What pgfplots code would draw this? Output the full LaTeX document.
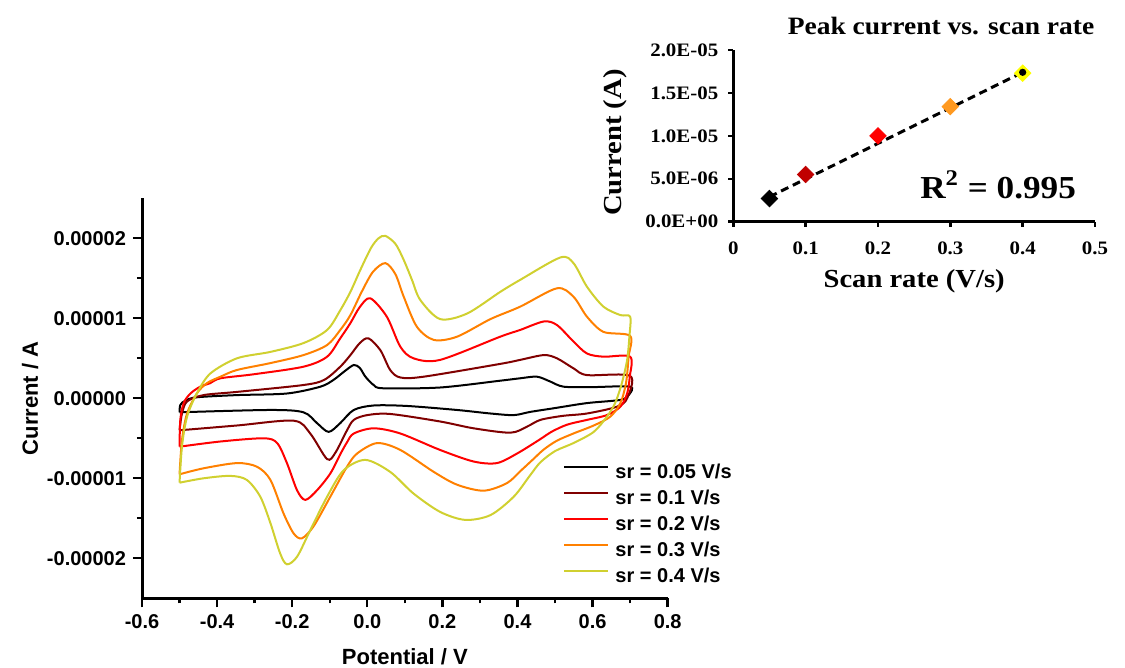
\documentclass[border=0pt]{standalone}
\usepackage{pgfplots}
\pgfplotsset{compat=1.18}
\usepackage{fontspec}
\setmainfont{Liberation Sans}
\newfontfamily\insetfont[FakeStretch=1.1]{Liberation Serif}
\definecolor{cvblack}{RGB}{0,0,0}
\definecolor{cvdarkred}{RGB}{128,0,0}
\definecolor{cvred}{RGB}{255,0,0}
\definecolor{cvorange}{RGB}{255,128,0}
\definecolor{cvyellow}{RGB}{208,208,48}
\definecolor{dkred}{RGB}{192,0,0}
\definecolor{dorange}{RGB}{255,153,32}
\definecolor{dyellow}{RGB}{255,255,0}
\begin{document}
\begin{tikzpicture}
\useasboundingbox (0,0) rectangle (562.5pt,334pt);
% ---------------- main CV plot (current in units of 1e-5 A) ----------------
\begin{axis}[
  at={(71pt,34.85pt)}, anchor=south west,
  scale only axis, width=262.85pt, height=200pt,
  xmin=-0.6, xmax=0.8, ymin=-2.5, ymax=2.5,
  axis lines=left, axis line style={-, line width=1.5pt},
  tick align=outside, major tick length=4.5pt, minor tick length=2.5pt,
  every tick/.style={black, line width=1.2pt},
  xtick={-0.6,-0.4,-0.2,0,0.2,0.4,0.6,0.8},
  xticklabels={-0.6,-0.4,-0.2,0.0,0.2,0.4,0.6,0.8},
  ytick={-2,-1,0,1,2},
  yticklabels={-0.00002,-0.00001,0.00000,0.00001,0.00002},
  minor x tick num=1, minor y tick num=1,
  tick label style={font=\fontsize{10}{12}\selectfont\bfseries},
  xlabel={Potential / V}, ylabel={Current / A},
  label style={font=\fontsize{11}{13}\selectfont\bfseries},
  xlabel style={at={(axis description cs:0.5,-0.145)}, anchor=center},
  ylabel style={at={(axis description cs:-0.213,0.5)}, anchor=center},
  legend style={at={(0.801,0.3385)}, anchor=north west, draw=none, fill=none,
    inner sep=0pt, row sep=3.5pt, column sep=3pt,
    font=\fontsize{10}{12}\selectfont\bfseries,
    nodes={inner sep=0pt, text height=7.5pt, text depth=2pt}},
  legend cell align=left,
  legend image code/.code={\draw[#1, line width=1pt] (0pt,2.8pt) -- (22pt,2.8pt);},
  clip=false,
]
\addplot[cvblack, line width=1pt, smooth, tension=0.5] coordinates {
(-0.500,-0.175) (-0.498,-0.084) (-0.485,-0.03) (-0.454,0.0125) (-0.347,0.04)
(-0.214,0.06) (-0.125,0.145) (-0.090,0.23) (-0.060,0.34) (-0.036,0.416)
(-0.020,0.38) (-0.005,0.27) (0.017,0.166) (0.043,0.125) (0.194,0.135)
(0.354,0.22) (0.407,0.25) (0.452,0.27) (0.487,0.21) (0.523,0.145)
(0.600,0.14) (0.700,0.145) (0.696,0.04) (0.674,-0.02) (0.585,-0.06)
(0.496,-0.125) (0.434,-0.17) (0.390,-0.21) (0.328,-0.19) (0.239,-0.146)
(0.106,-0.096) (0.017,-0.09) (-0.036,-0.146) (-0.072,-0.31) (-0.103,-0.42)
(-0.134,-0.31) (-0.170,-0.175) (-0.258,-0.146) (-0.500,-0.175)};
\addlegendentry{sr = 0.05 V/s}
\addplot[cvdarkred, line width=1pt, smooth, tension=0.5] coordinates {
(-0.500,-0.40) (-0.4935,-0.19) (-0.480,-0.04) (-0.436,0.04) (-0.347,0.08)
(-0.170,0.166) (-0.115,0.23) (-0.072,0.395) (-0.045,0.54) (-0.020,0.69) (0.003,0.75)
(0.035,0.60) (0.061,0.354) (0.088,0.26) (0.150,0.27) (0.354,0.43)
(0.407,0.48) (0.470,0.54) (0.505,0.50) (0.549,0.375) (0.585,0.29)
(0.700,0.28) (0.692,0.0) (0.665,-0.105) (0.585,-0.19) (0.520,-0.22)
(0.461,-0.27) (0.425,-0.355) (0.381,-0.43) (0.283,-0.375) (0.194,-0.29)
(0.061,-0.196) (0.000,-0.21) (-0.036,-0.27) (-0.054,-0.40) (-0.085,-0.68)
(-0.107,-0.76) (-0.152,-0.44) (-0.196,-0.28) (-0.347,-0.34) (-0.500,-0.40)};
\addlegendentry{sr = 0.1 V/s}
\addplot[cvred, line width=1pt, smooth, tension=0.5] coordinates {
(-0.500,-0.605) (-0.498,-0.27) (-0.489,-0.06) (-0.471,0.06) (-0.445,0.145)
(-0.418,0.19) (-0.391,0.25) (-0.303,0.30) (-0.170,0.395) (-0.107,0.52)
(-0.072,0.75) (-0.045,0.94) (-0.020,1.14) (0.008,1.25) (0.052,1.02) (0.088,0.645)
(0.123,0.50) (0.194,0.48) (0.354,0.77) (0.407,0.854) (0.470,0.96)
(0.505,0.916) (0.549,0.71) (0.585,0.56) (0.629,0.52) (0.700,0.52)
(0.699,0.27) (0.692,0.06) (0.674,-0.105) (0.638,-0.21) (0.585,-0.27)
(0.532,-0.33) (0.490,-0.42) (0.461,-0.51) (0.399,-0.69) (0.345,-0.81) (0.283,-0.79)
(0.194,-0.646) (0.088,-0.44) (0.017,-0.375) (-0.036,-0.44) (-0.054,-0.55)
(-0.072,-0.70) (-0.0985,-0.94) (-0.134,-1.15) (-0.165,-1.27) (-0.187,-1.15)
(-0.214,-0.81) (-0.240,-0.56) (-0.276,-0.50) (-0.391,-0.54) (-0.500,-0.605)};
\addlegendentry{sr = 0.2 V/s}
\addplot[cvorange, line width=1pt, smooth, tension=0.5] coordinates {
(-0.500,-0.95) (-0.4935,-0.52) (-0.480,-0.19) (-0.454,0.06) (-0.427,0.19)
(-0.391,0.27) (-0.347,0.354) (-0.258,0.44) (-0.170,0.54) (-0.107,0.666)
(-0.072,0.854) (-0.045,1.04) (-0.015,1.33) (0.015,1.58) (0.048,1.69) (0.075,1.55) (0.097,1.27) (0.132,0.895)
(0.177,0.73) (0.239,0.77) (0.328,0.99) (0.407,1.145) (0.505,1.375)
(0.549,1.27) (0.585,1.02) (0.629,0.83) (0.700,0.78) (0.696,0.52)
(0.689,0.19) (0.674,-0.06) (0.647,-0.23) (0.603,-0.34) (0.549,-0.44)
(0.505,-0.53) (0.470,-0.64) (0.440,-0.77) (0.410,-0.90) (0.372,-1.06) (0.310,-1.155)
(0.239,-1.08) (0.177,-0.92) (0.088,-0.646) (0.026,-0.56) (-0.027,-0.69)
(-0.054,-0.855) (-0.0985,-1.23) (-0.143,-1.60) (-0.174,-1.75) (-0.196,-1.69)
(-0.223,-1.44) (-0.258,-1.02) (-0.294,-0.855) (-0.347,-0.81) (-0.436,-0.875)
(-0.500,-0.95)};
\addlegendentry{sr = 0.3 V/s}
\addplot[cvyellow, line width=1pt, smooth, tension=0.5] coordinates {
(-0.500,-1.055) (-0.4935,-0.60) (-0.480,-0.23) (-0.454,0.06) (-0.418,0.31)
(-0.347,0.50) (-0.258,0.58) (-0.170,0.69) (-0.107,0.854) (-0.072,1.10)
(-0.045,1.33) (-0.019,1.60) (0.010,1.88) (0.030,2.00) (0.048,2.03) (0.075,1.93)
(0.097,1.73) (0.119,1.48) (0.141,1.23)
(0.194,0.99) (0.266,1.06) (0.354,1.33) (0.407,1.48) (0.514,1.76)
(0.549,1.69) (0.585,1.395) (0.629,1.145) (0.674,1.04) (0.700,1.02)
(0.698,0.77) (0.692,0.48) (0.678,0.19) (0.660,-0.06) (0.638,-0.23)
(0.603,-0.42) (0.549,-0.56) (0.500,-0.66) (0.461,-0.80) (0.434,-0.96)
(0.390,-1.23) (0.328,-1.46) (0.261,-1.52) (0.194,-1.42) (0.123,-1.19)
(0.061,-0.92) (-0.005,-0.77) (-0.063,-0.90) (-0.107,-1.23) (-0.152,-1.65)
(-0.187,-1.98) (-0.214,-2.075) (-0.232,-1.94) (-0.258,-1.56) (-0.285,-1.23)
(-0.321,-1.02) (-0.365,-0.97) (-0.436,-1.00) (-0.500,-1.055)};
\addlegendentry{sr = 0.4 V/s}
\end{axis}
% ---------------- inset: peak current vs scan rate ----------------
\begin{axis}[
  at={(366.65pt,223.15pt)}, anchor=south west,
  scale only axis, width=180.85pt, height=85.85pt,
  xmin=0, xmax=0.5, ymin=0, ymax=2e-5,
  axis lines=left, axis line style={-, line width=1.8pt},
  tick align=outside, major tick length=2.5pt,
  every tick/.style={black, line width=1.2pt},
  xtick={0,0.1,0.2,0.3,0.4,0.5},
  xticklabels={0,0.1,0.2,0.3,0.4,0.5},
  ytick={0,5e-6,1e-5,1.5e-5,2e-5},
  yticklabels={0.0E+00,5.0E-06,1.0E-05,1.5E-05,2.0E-05},
  scaled y ticks=false,
  tick label style={font=\insetfont\fontsize{9.5}{11}\selectfont\bfseries},
  yticklabel style={xshift=-1.5pt},
  xticklabel style={yshift=-4pt},
  xlabel={Scan rate (V/s)}, ylabel={Current (A)},
  label style={font=\insetfont\fontsize{13}{15}\selectfont\bfseries},
  xlabel style={at={(axis description cs:0.5,-0.349)}, anchor=center},
  ylabel style={at={(axis description cs:-0.327,0.461)}, anchor=center},
  clip=false,
]
\addplot[only marks, mark=square*, mark size=2.9pt, mark options={rotate=45, fill=black, draw=black}] coordinates {(0.05,2.7e-6)};
\addplot[only marks, mark=square*, mark size=2.9pt, mark options={rotate=45, fill=dkred, draw=dkred}] coordinates {(0.1,5.5e-6)};
\addplot[only marks, mark=square*, mark size=2.9pt, mark options={rotate=45, fill=cvred, draw=cvred}] coordinates {(0.2,1.0e-5)};
\addplot[only marks, mark=square*, mark size=2.9pt, mark options={rotate=45, fill=dorange, draw=dorange}] coordinates {(0.3,1.34e-5)};
\addplot[only marks, mark=square*, mark size=2.9pt, mark options={rotate=45, fill=dyellow, draw=dyellow}] coordinates {(0.4,1.73e-5)};
\addplot[black, line width=1.5pt, dash pattern=on 4pt off 2.5pt, mark=*, mark size=1pt, mark indices={2}, mark options={solid}] coordinates {(0.05,2.9e-6) (0.4,1.74e-5)};
\node[font=\insetfont\fontsize{16}{19}\selectfont\bfseries] at (axis cs:0.366,4.3e-6) {R\textsuperscript{2} = 0.995};
\end{axis}
\node[font=\insetfont\fontsize{12.5}{15}\selectfont\bfseries] at (470.5pt,321pt) {Peak current vs. scan rate};
\end{tikzpicture}
\end{document}
